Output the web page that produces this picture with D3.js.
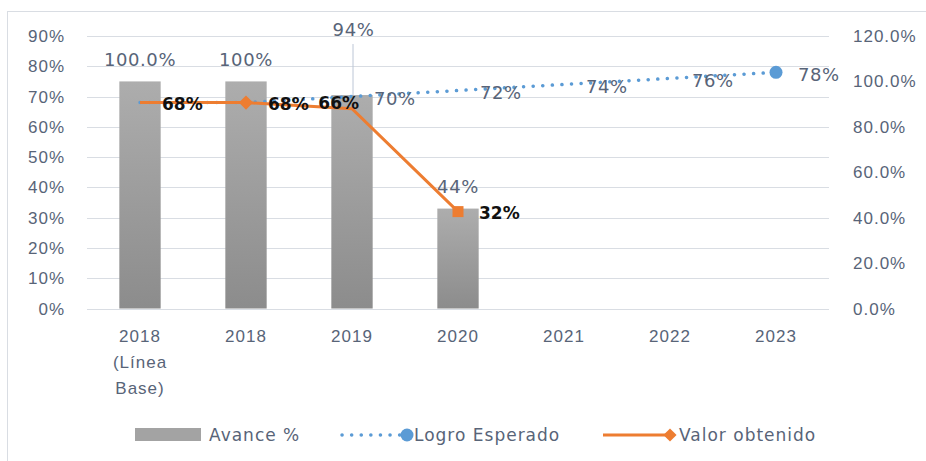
<!DOCTYPE html>
<html>
<head>
<meta charset="utf-8">
<script src="https://cdn.jsdelivr.net/npm/d3@7"></script>
<style>
  body { margin: 0; background: #fff; }
  svg { font-family: "DejaVu Sans", sans-serif; }
  .tick text { fill: #586478; font-size: 17px; letter-spacing: 1px; }
</style>
</head>
<body>
<div id="chart"></div>
<script>
// data
var categories = ["2018\n(Línea\nBase)", "2018", "2019", "2020", "2021", "2022", "2023"];
var avance = [1.00, 1.00, 0.94, 0.44];
var avanceLabels = ["100.0%", "100%", "94%", "44%"];
var logroEsperado = [0.68, 0.68, 0.70, 0.72, 0.74, 0.76, 0.78];
var valorObtenido = [0.68, 0.68, 0.66, 0.32];
var leftTicks = [0, 0.1, 0.2, 0.3, 0.4, 0.5, 0.6, 0.7, 0.8, 0.9];
var rightTicks = [0, 0.2, 0.4, 0.6, 0.8, 1.0, 1.2];

var svgWidth = 926;
var svgHeight = 461;

var margin = { top: 36, right: 97, bottom: 152.5, left: 87 };
var width = svgWidth - margin.left - margin.right;
var height = svgHeight - margin.top - margin.bottom;

var textColor = "#586478";
var orange = "#ed7d31";
var blue = "#5b9bd5";

var svg = d3.select("#chart")
  .append("svg")
  .attr("width", svgWidth)
  .attr("height", svgHeight);

// bar gradient
var grad = svg.append("defs").append("linearGradient")
  .attr("id", "barGrad")
  .attr("x1", 0).attr("y1", 0).attr("x2", 0).attr("y2", 1);
grad.append("stop").attr("offset", "0%").attr("stop-color", "#adadad");
grad.append("stop").attr("offset", "100%").attr("stop-color", "#8c8c8c");

// outer frame
svg.append("rect")
  .attr("x", 7.5).attr("y", 11.5)
  .attr("width", 940).attr("height", 470)
  .attr("fill", "none")
  .attr("stroke", "#d9dde3");

var chartGroup = svg.append("g")
  .attr("transform", `translate(${margin.left}, ${margin.top})`);

// scales
var xBand = d3.scaleBand().domain(categories).range([0, width]).padding(0);
var xCenter = c => xBand(c) + xBand.bandwidth() / 2;
var yLeft = d3.scaleLinear().domain([0, 0.9]).range([height, 0]);
var yRight = d3.scaleLinear().domain([0, 1.2]).range([height, 0]);

// gridlines
chartGroup.selectAll(".grid")
  .data(leftTicks)
  .enter()
  .append("line")
  .attr("x1", 0).attr("x2", width)
  .attr("y1", d => Math.round(yLeft(d)) + 0.5)
  .attr("y2", d => Math.round(yLeft(d)) + 0.5)
  .attr("stroke", "#d9dde3")
  .attr("stroke-width", 1);

// axes
var leftAxis = d3.axisLeft(yLeft).tickValues(leftTicks).tickFormat(d3.format(".0%")).tickSize(0).tickPadding(22);
var rightAxis = d3.axisRight(yRight).tickValues(rightTicks).tickFormat(d3.format(".1%")).tickSize(0).tickPadding(24);
var bottomAxis = d3.axisBottom(xBand).tickSize(0).tickPadding(0).tickFormat("");

var yAxisL = chartGroup.append("g").call(leftAxis);
var yAxisR = chartGroup.append("g").attr("transform", `translate(${width}, 0)`).call(rightAxis);
var xAxis = chartGroup.append("g").attr("transform", `translate(0, ${height})`).call(bottomAxis);
[yAxisL, yAxisR, xAxis].forEach(a => a.select(".domain").remove());
yAxisL.selectAll("text").attr("dy", null).attr("dominant-baseline", "central");
yAxisR.selectAll("text").attr("dy", null).attr("dominant-baseline", "central");

// multi-line category labels
xAxis.selectAll(".tick text")
  .attr("y", 0)
  .attr("dy", null)
  .each(function(d) {
    var t = d3.select(this);
    d.split("\n").forEach(function(line, i) {
      t.append("tspan")
        .attr("x", 0)
        .attr("y", 28 + i * 26)
        .attr("dominant-baseline", "central")
        .text(line);
    });
  });

// bars (right axis)
var barW = xBand.bandwidth() * 0.39;
chartGroup.selectAll(".bar")
  .data(avance)
  .enter()
  .append("rect")
  .attr("x", (d, i) => xCenter(categories[i]) - barW / 2)
  .attr("y", d => yRight(d))
  .attr("width", barW)
  .attr("height", d => height - yRight(d))
  .attr("fill", "url(#barGrad)");

// bar labels; the 2019 one is pulled up with a leader line
var barLabelOffset = [-22, -22, -66, -22];
chartGroup.append("line")
  .attr("x1", xCenter(categories[2]) + 1).attr("x2", xCenter(categories[2]) + 1)
  .attr("y1", yRight(avance[2]) + barLabelOffset[2] + 15)
  .attr("y2", yRight(avance[2]))
  .attr("stroke", "#bcc6d6")
  .attr("stroke-width", 1);

chartGroup.selectAll(".barLabel")
  .data(avance)
  .enter()
  .append("text")
  .attr("x", (d, i) => xCenter(categories[i]) + (i === 2 ? 1.5 : 0))
  .attr("y", (d, i) => yRight(d) + barLabelOffset[i])
  .attr("text-anchor", "middle")
  .attr("dominant-baseline", "central")
  .attr("font-size", "18px")
  .attr("letter-spacing", "0.6px")
  .attr("fill", textColor)
  .text((d, i) => avanceLabels[i]);

// Logro Esperado (left axis, dotted)
var lineLogro = d3.line()
  .x((d, i) => xCenter(categories[i]))
  .y(d => yLeft(d));
chartGroup.append("path")
  .datum(logroEsperado)
  .attr("d", lineLogro)
  .attr("fill", "none")
  .attr("stroke", blue)
  .attr("stroke-width", 3.5)
  .attr("stroke-linecap", "round")
  .attr("stroke-dasharray", "0.1 9.5");
var last = logroEsperado.length - 1;
chartGroup.append("circle")
  .attr("cx", xCenter(categories[last]))
  .attr("cy", yLeft(logroEsperado[last]))
  .attr("r", 6.5)
  .attr("fill", blue);

// Valor obtenido (left axis)
var lineValor = d3.line()
  .x((d, i) => xCenter(categories[i]))
  .y(d => yLeft(d));
chartGroup.append("path")
  .datum(valorObtenido)
  .attr("d", lineValor)
  .attr("fill", "none")
  .attr("stroke", orange)
  .attr("stroke-width", 3);
chartGroup.append("path")
  .attr("d", d3.symbol(d3.symbolDiamond2, 130)())
  .attr("transform", `translate(${xCenter(categories[1])}, ${yLeft(valorObtenido[1])})`)
  .attr("fill", orange);
chartGroup.append("rect")
  .attr("x", xCenter(categories[3]) - 5.5)
  .attr("y", yLeft(valorObtenido[3]) - 5.5)
  .attr("width", 11).attr("height", 11)
  .attr("fill", orange);

// Logro labels (skip first two, hidden under orange labels)
chartGroup.selectAll(".logroLabel")
  .data(logroEsperado.slice(2))
  .enter()
  .append("text")
  .attr("x", (d, i) => xCenter(categories[i + 2]) + 22)
  .attr("y", d => yLeft(d) + 2)
  .attr("dominant-baseline", "central")
  .attr("font-size", "18px")
  .attr("letter-spacing", "0.6px")
  .attr("fill", textColor)
  .text(d => d3.format(".0%")(d));

// Valor labels
var valorDx = [22, 22, 7, 21];
var valorDy = [1.5, 1.5, -5.5, 1.7];
chartGroup.selectAll(".valorLabel")
  .data(valorObtenido)
  .enter()
  .append("text")
  .attr("x", (d, i) => xCenter(categories[i]) + valorDx[i])
  .attr("y", (d, i) => yLeft(d) + valorDy[i])
  .attr("text-anchor", (d, i) => i === 2 ? "end" : "start")
  .attr("dominant-baseline", "central")
  .attr("font-size", "17px")
  .attr("font-weight", "bold")
  .attr("fill", "#111")
  .text(d => d3.format(".0%")(d));

// legend
var legend = svg.append("g").attr("font-size", "17px").attr("letter-spacing", "1px").attr("fill", textColor);
var ly = 435;
legend.append("rect")
  .attr("x", 135).attr("y", ly - 7).attr("width", 66).attr("height", 13)
  .attr("fill", "#a3a3a3");
legend.append("text").attr("x", 209).attr("y", ly).attr("dominant-baseline", "central").text("Avance %");
legend.append("line")
  .attr("x1", 342).attr("x2", 400).attr("y1", ly).attr("y2", ly)
  .attr("stroke", blue).attr("stroke-width", 3.5)
  .attr("stroke-linecap", "round").attr("stroke-dasharray", "0.1 9.5");
legend.append("circle").attr("cx", 407).attr("cy", ly).attr("r", 6.5).attr("fill", blue);
legend.append("text").attr("x", 414).attr("y", ly).attr("dominant-baseline", "central").text("Logro Esperado");
legend.append("line")
  .attr("x1", 603).attr("x2", 670).attr("y1", ly).attr("y2", ly)
  .attr("stroke", orange).attr("stroke-width", 3);
legend.append("path")
  .attr("d", d3.symbol(d3.symbolDiamond2, 110)())
  .attr("transform", `translate(670, ${ly})`)
  .attr("fill", orange);
legend.append("text").attr("x", 679).attr("y", ly).attr("dominant-baseline", "central").text("Valor obtenido");
</script>
</body>
</html>
